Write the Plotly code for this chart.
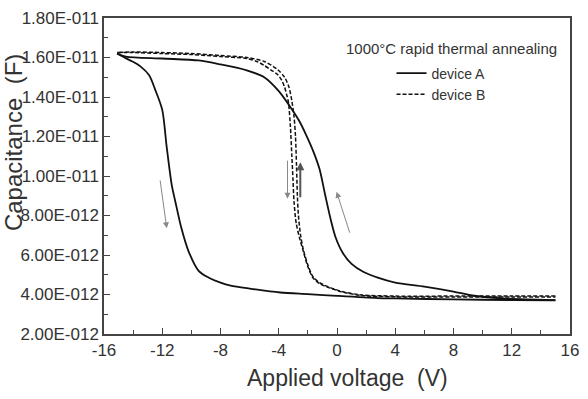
import plotly.graph_objects as go

# ---- data (capacitance in pF, i.e. units of 1E-012 F) ----
a_upper_v = [-15.1, -14.5, -12.0, -9.5, -8.0, -6.2, -5.0, -4.0, -3.3, -2.6, -2.1, -1.6, -1.2, -0.8,
             -0.4, -0.1, 0.4, 1.0, 1.8, 2.8, 4.0, 6.0, 8.0, 9.3, 11.4, 13.0, 15.0]
a_upper_c = [16.2, 16.05, 15.95, 15.85, 15.65, 15.35, 15.0, 14.3, 13.6, 12.8, 12.05, 11.2, 10.35, 9.0,
             7.7, 6.9, 6.1, 5.55, 5.15, 4.85, 4.6, 4.4, 4.15, 3.95, 3.8, 3.75, 3.72]

a_lower_v = [15.0, 12.0, 8.0, 4.0, 2.8, 0.0, -2.0, -3.9, -6.0, -7.3, -8.0, -8.8, -9.5, -10.2, -10.7,
             -11.1, -11.35, -11.7, -12.0, -12.5, -12.9, -13.5, -14.05, -14.6, -15.1]
a_lower_c = [3.7, 3.72, 3.75, 3.8, 3.82, 3.93, 4.02, 4.1, 4.3, 4.45, 4.6, 4.85, 5.2, 6.2, 7.4,
             8.7, 9.55, 11.5, 13.35, 14.4, 15.1, 15.55, 15.8, 16.0, 16.2]

b_left_v = [-15.1, -14.0, -12.0, -10.0, -8.0, -6.2, -5.5, -5.0, -4.5, -4.1, -3.8, -3.6, -3.45, -3.33,
            -3.2, -3.1, -3.02, -2.95, -2.8, -2.55, -2.32, -2.0, -1.65, -1.2, -0.57, 0.5, 1.7, 4.0,
            8.0, 12.0, 15.0]
b_left_c = [16.25, 16.25, 16.2, 16.15, 16.05, 15.95, 15.8, 15.6, 15.35, 15.15, 14.85, 14.5, 14.1, 13.7,
            12.5, 11.0, 9.8, 8.7, 7.6, 6.8, 6.2, 5.4, 4.85, 4.55, 4.35, 4.1, 3.95, 3.88,
            3.87, 3.87, 3.87]

b_right_v = [15.0, 12.0, 8.0, 4.0, 1.7, 0.5, -0.57, -1.2, -1.65, -2.0, -2.32, -2.5, -2.65, -2.72,
             -2.78, -2.85, -2.95, -3.1, -3.3, -3.6, -4.1, -5.0, -6.2, -8.0, -10.0, -12.0, -14.0, -15.1]
b_right_c = [3.92, 3.92, 3.92, 3.92, 3.98, 4.12, 4.38, 4.6, 4.9, 5.5, 6.3, 7.0, 8.0, 9.0,
             10.5, 12.0, 13.0, 13.8, 14.5, 15.0, 15.4, 15.8, 16.0, 16.1, 16.2, 16.25, 16.28, 16.25]

x_ticks = [-16, -12, -8, -4, 0, 4, 8, 12, 16]
x_ticktext = ["-16", "-12", "-8", "-4", "0", "4", "8", "12", "16"]
x_minor = [-14, -10, -6, -2, 2, 6, 10, 14]
y_ticks = [2, 4, 6, 8, 10, 12, 14, 16, 18]
y_ticktext = ["2.00E-012", "4.00E-012", "6.00E-012", "8.00E-012", "1.00E-011",
              "1.20E-011", "1.40E-011", "1.60E-011", "1.80E-011"]
y_minor = [3, 5, 7, 9, 11, 13, 15, 17]

# arrows: (tail_v, tail_c, head_v, head_c)
arrows = [
    (-12.16, 9.85, -11.69, 7.35),
    (-3.40, 10.85, -3.40, 8.85),
    (-2.52, 8.85, -2.52, 10.7),
    (0.91, 7.05, -0.03, 9.2),
]
arrow_styles = [("#888888", 1.0), ("#888888", 1.0), ("#555555", 2.0), ("#888888", 1.0)]

FONT = "Arial, Liberation Sans, sans-serif"
TXT = "#333333"

fig = go.Figure()
fig.add_trace(go.Scatter(x=a_upper_v, y=a_upper_c, mode="lines", name="device A",
                         line=dict(color="#111111", width=1.8, shape="spline", smoothing=0.8),
                         showlegend=True))
fig.add_trace(go.Scatter(x=a_lower_v, y=a_lower_c, mode="lines", name="device A",
                         line=dict(color="#111111", width=1.8, shape="spline", smoothing=0.8),
                         showlegend=False))
fig.add_trace(go.Scatter(x=b_left_v, y=b_left_c, mode="lines", name="device B",
                         line=dict(color="#111111", width=1.5, dash="4px,2px", shape="spline",
                                   smoothing=0.8),
                         showlegend=True))
fig.add_trace(go.Scatter(x=b_right_v, y=b_right_c, mode="lines", name="device B",
                         line=dict(color="#111111", width=1.5, dash="4px,2px", shape="spline",
                                   smoothing=0.8),
                         showlegend=False))

for (tv, tc, hv, hc), (col, w) in zip(arrows, arrow_styles):
    fig.add_annotation(x=hv, y=hc, ax=tv, ay=tc, xref="x", yref="y", axref="x", ayref="y",
                       text="", showarrow=True, arrowhead=2, arrowsize=1.2 if w < 1.5 else 0.8,
                       arrowwidth=w, arrowcolor=col)

fig.add_annotation(text="1000°C rapid thermal annealing", x=0.745, y=0.905, xref="paper", yref="paper",
                   showarrow=False, font=dict(family=FONT, size=15, color=TXT), xanchor="center",
                   yanchor="middle")
fig.add_annotation(text="Capacitance  (F)", x=-0.194, y=0.606, xref="paper", yref="paper",
                   showarrow=False, textangle=-90, font=dict(family=FONT, size=24, color=TXT),
                   xanchor="center", yanchor="middle")
fig.add_annotation(text="Applied voltage  (V)", x=0.522, y=-0.14, xref="paper", yref="paper",
                   showarrow=False, font=dict(family=FONT, size=23, color=TXT),
                   xanchor="center", yanchor="middle")

axis_common = dict(showline=True, linecolor="#444444", linewidth=1.5, mirror=True,
                   showgrid=False, zeroline=False, ticks="inside", ticklen=6, tickwidth=1.2,
                   tickcolor="#444444", tickfont=dict(family=FONT, size=17, color=TXT))

fig.update_xaxes(range=[-16, 16], tickmode="array", tickvals=x_ticks, ticktext=x_ticktext,
                 minor=dict(ticks="inside", ticklen=4, tickwidth=1.2, tickmode="array",
                            tickvals=x_minor, tickcolor="#444444", showgrid=False),
                 **axis_common)
fig.update_yaxes(range=[2, 18], tickmode="array", tickvals=y_ticks, ticktext=y_ticktext,
                 minor=dict(ticks="inside", ticklen=4, tickwidth=1.2, tickmode="array",
                            tickvals=y_minor, tickcolor="#444444", showgrid=False),
                 **axis_common)

fig.update_layout(
    width=588, height=399,
    margin=dict(l=104, r=9, t=14, b=65),
    paper_bgcolor="white", plot_bgcolor="white",
    legend=dict(x=0.617, y=0.875, xanchor="left", yanchor="top", bgcolor="rgba(0,0,0,0)",
                font=dict(family=FONT, size=14, color=TXT), tracegroupgap=0, itemwidth=30),
    showlegend=True,
)

fig.write_html("out.html")
